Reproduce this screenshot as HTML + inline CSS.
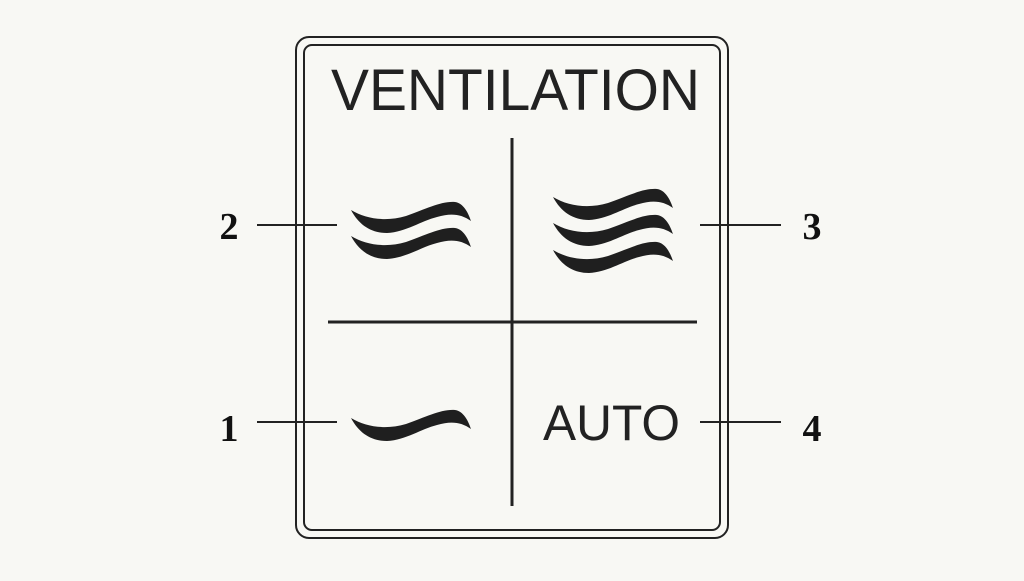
<!DOCTYPE html>
<html><head><style>body{margin:0;background:#f8f8f4}</style></head><body>
<svg width="1024" height="576" viewBox="0 0 1024 576" xmlns="http://www.w3.org/2000/svg">
<defs>
<path id="w" d="M0,0 C15,9 35,12 55,6 C75,-1 90,-9 104,-8 C112,-7 117,2 120,11 C110,4 100,3 86,7 C70,11 55,22 36,23 C20,23 8,15 0,0 Z" fill="#1f1f1f"/>
</defs>
<rect width="1024" height="576" fill="#f8f8f4"/>
<rect x="296" y="37" width="432" height="501" rx="13" fill="none" stroke="#222" stroke-width="2"/>
<rect x="304" y="45" width="416" height="485" rx="8" fill="none" stroke="#222" stroke-width="2"/>
<text x="331" y="110" font-family="Liberation Sans, sans-serif" font-size="58" fill="#222" textLength="369" lengthAdjust="spacingAndGlyphs">VENTILATION</text>
<line x1="512" y1="138" x2="512" y2="506" stroke="#222" stroke-width="3"/>
<line x1="328" y1="322" x2="697" y2="322" stroke="#222" stroke-width="3"/>
<use href="#w" x="351" y="210"/>
<use href="#w" x="351" y="236"/>
<use href="#w" x="553" y="197"/>
<use href="#w" x="553" y="223"/>
<use href="#w" x="553" y="250"/>
<use href="#w" x="351" y="418"/>
<text x="543" y="440" font-family="Liberation Sans, sans-serif" font-size="50" fill="#222" textLength="137" lengthAdjust="spacingAndGlyphs">AUTO</text>
<g stroke="#222" stroke-width="2">
<line x1="257" y1="225" x2="337" y2="225"/>
<line x1="700" y1="225" x2="781" y2="225"/>
<line x1="257" y1="422" x2="337" y2="422"/>
<line x1="700" y1="422" x2="781" y2="422"/>
</g>
<g font-family="Liberation Serif, serif" font-weight="bold" font-size="38" fill="#111" text-anchor="middle">
<text x="229" y="239">2</text>
<text x="812" y="239">3</text>
<text x="229" y="441">1</text>
<text x="812" y="441">4</text>
</g>
</svg>
</body></html>
